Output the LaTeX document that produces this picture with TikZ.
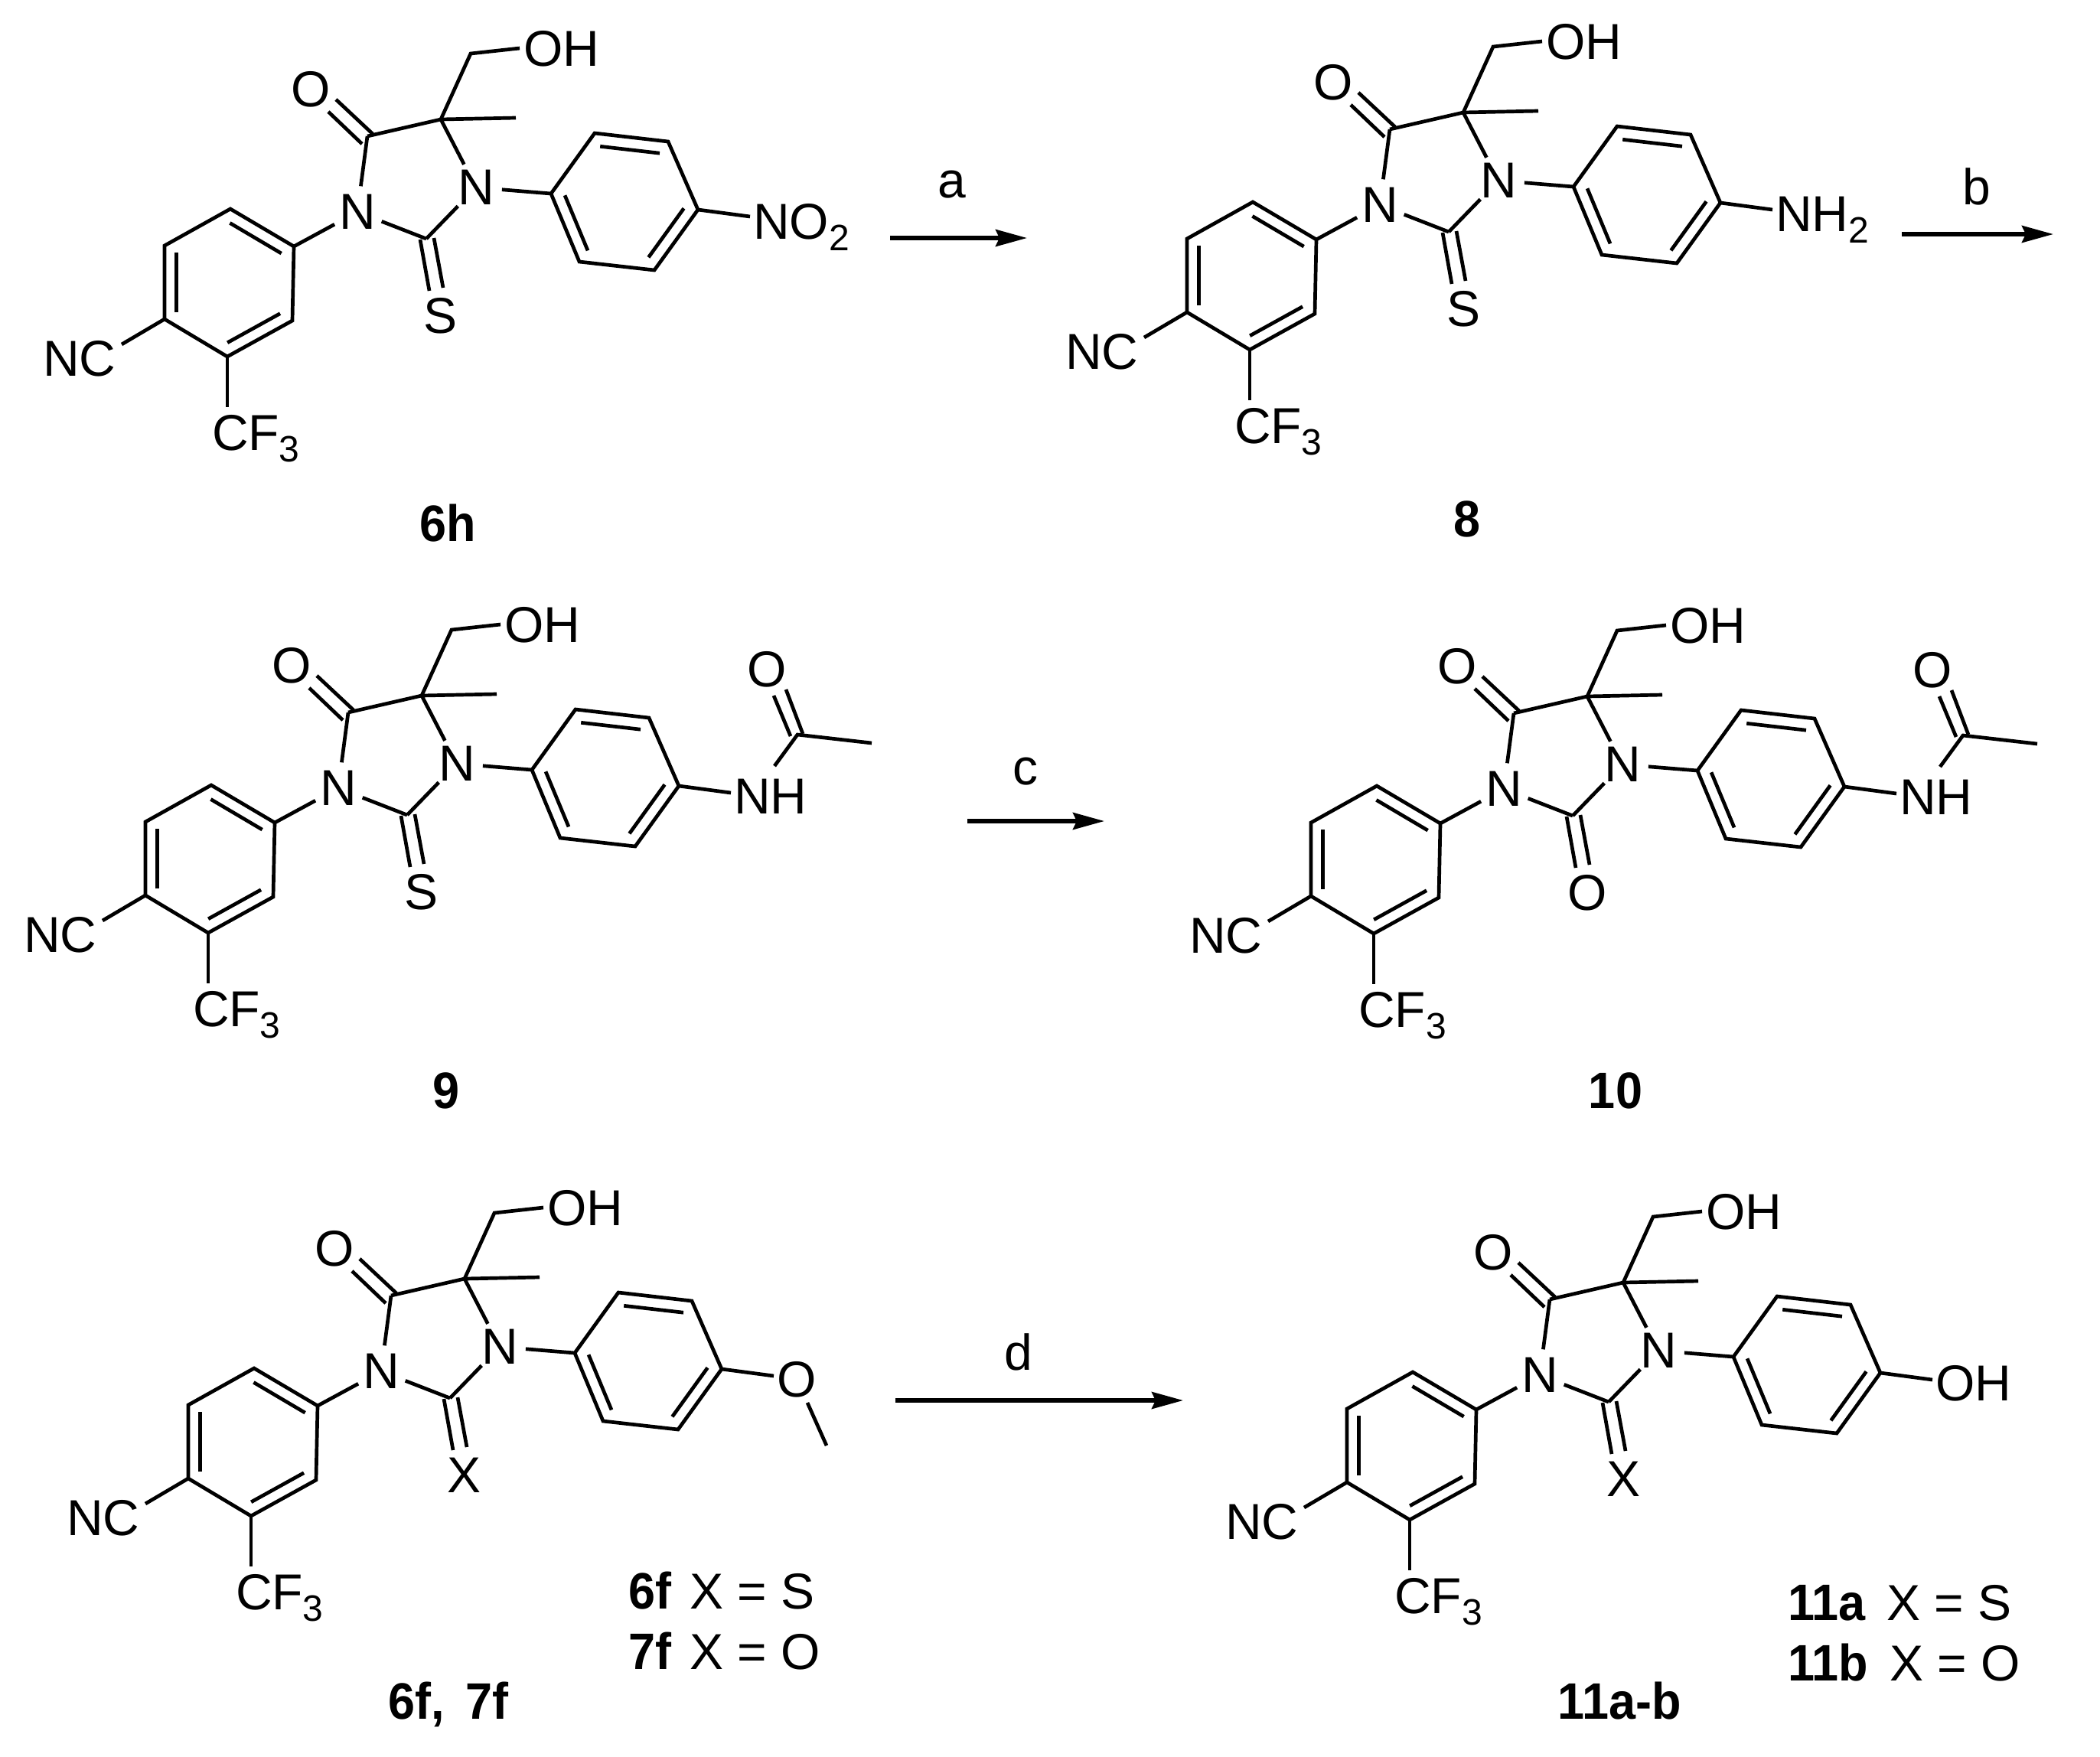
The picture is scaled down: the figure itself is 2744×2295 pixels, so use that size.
\documentclass[tikz,border=0pt]{standalone}
\usepackage{graphicx}
\usepackage{fontspec}
\setmainfont{Liberation Sans}
\usetikzlibrary{arrows.meta,calc}
\newcommand{\atomfont}{\fontsize{66}{66}\selectfont}
\newcommand{\labfont}{\fontsize{67}{67}\selectfont\bfseries}
\newcommand{\cmp}[1]{\scalebox{.94}[1]{\labfont #1}}
\newcommand{\subs}[1]{\raisebox{-15pt}{\fontsize{48}{48}\selectfont #1}}
\tikzset{
  bond/.style={line width=4.7pt,line cap=butt,line join=miter},
  atomlabel/.style={inner sep=0pt,outer sep=0pt,font=\atomfont},
  ringatom/.style={atomlabel,circle,minimum size=68pt},
  txtwest/.style={atomlabel,anchor=base west},
  txtcenter/.style={atomlabel,anchor=base},
  cmpd/.style={inner sep=0pt,anchor=base},
  rxn/.style={line width=5.4pt,-{Stealth[length=41pt,width=22pt,inset=5pt]}},
}
% #1 prefix, #2 dx, #3 dy, #4 exocyclic atom at C2, #5 para substituent drawing
\newcommand{\molcore}[5]{%
\begin{scope}[shift={(#2,#3)}]
  \coordinate (#1C5) at (576,156);
  \coordinate (#1C4) at (480,178);
  \coordinate (#1C2) at (557,312);
  \coordinate (#1CH) at (615,70);
  \coordinate (#1Me) at (674,154);
  \coordinate (#1OHe) at (679,63);
  \coordinate (#1A1) at (301,273);
  \coordinate (#1A2) at (384,322);
  \coordinate (#1A3) at (382,419);
  \coordinate (#1A4) at (297,466);
  \coordinate (#1A5) at (215,417);
  \coordinate (#1A6) at (215,321);
  \coordinate (#1Ac) at (298,370);
  \coordinate (#1B1) at (720,253);
  \coordinate (#1B2) at (777,174);
  \coordinate (#1B3) at (873,185);
  \coordinate (#1B4) at (912,274);
  \coordinate (#1B5) at (855,353);
  \coordinate (#1B6) at (757,342);
  \coordinate (#1Bc) at (815,265);
  \coordinate (#1NCe) at (159,450);
  \coordinate (#1CFe) at (297,532);
  \coordinate (#1Re) at (980,283);
  \node[ringatom] (#1N1) at (467,277) {N};
  \node[ringatom] (#1N3) at (622,245) {N};
  \node[atomlabel,anchor=base] (#1O) at (406,139) {O};
  \node[atomlabel,anchor=base] (#1X) at (576,435) {#4};
  \node[txtwest] (#1OH) at (684,86) {OH};
  \node[txtwest] (#1NC) at (56,491) {NC};
  \node[txtwest] (#1CF) at (277,588) {CF\subs{3}};
  \draw[bond] (#1A1)--(#1A2)--(#1A3)--(#1A4)--(#1A5)--(#1A6)--cycle;
  \draw[bond] (#1B1)--(#1B2)--(#1B3)--(#1B4)--(#1B5)--(#1B6)--cycle;
  \draw[bond] ($(#1A1)!.19!(#1Ac)$)--($(#1A2)!.19!(#1Ac)$);
  \draw[bond] ($(#1A3)!.19!(#1Ac)$)--($(#1A4)!.19!(#1Ac)$);
  \draw[bond] ($(#1A5)!.19!(#1Ac)$)--($(#1A6)!.19!(#1Ac)$);
  \draw[bond] ($(#1B2)!.19!(#1Bc)$)--($(#1B3)!.19!(#1Bc)$);
  \draw[bond] ($(#1B1)!.19!(#1Bc)$)--($(#1B6)!.19!(#1Bc)$);
  \draw[bond] ($(#1B4)!.19!(#1Bc)$)--($(#1B5)!.19!(#1Bc)$);
  \draw[bond] (#1C4)--(#1C5);
  \draw[bond] (#1C4)--(#1N1);
  \draw[bond] (#1C5)--(#1N3);
  \draw[bond] (#1N1)--(#1C2);
  \draw[bond] (#1C2)--(#1N3);
  \draw[bond] (#1N1)--(#1A2);
  \draw[bond] (#1N3)--(#1B1);
  \draw[bond] (#1C5)--(#1Me);
  \draw[bond] (#1C5)--(#1CH)--(#1OHe);
  \draw[bond] (#1A5)--(#1NCe);
  \draw[bond] (#1A4)--(#1CFe);
  \draw[bond] (#1B4)--(#1Re);
  \coordinate (#1da) at (439,130); \coordinate (#1db) at (487,175);
  \coordinate (#1dc) at (429,146); \coordinate (#1dd) at (473,188);
  \draw[bond] (#1da)--(#1db);
  \draw[bond] (#1dc)--(#1dd);
  \coordinate (#1sa) at (549,313); \coordinate (#1sb) at (561,380);
  \coordinate (#1sc) at (567,311); \coordinate (#1sd) at (579,376);
  \draw[bond] (#1sa)--(#1sb);
  \draw[bond] (#1sc)--(#1sd);
  #5
\end{scope}}
% acetamide fragment on the para position
\newcommand{\acetamide}[1]{%
  \node[txtwest] (#1NH) at (984,310) {NH};
  \node[atomlabel,anchor=base] (#1Oa) at (1027,144) {O};
  \coordinate (#1Ca) at (1067,207);
  \coordinate (#1Mea) at (1164,218);
  \coordinate (#1NHe) at (1037,248);
  \draw[bond] (#1NHe)--(#1Ca)--(#1Mea);
  \coordinate (#1ea) at (1052,148); \coordinate (#1eb) at (1074,206);
  \coordinate (#1ec) at (1036,156); \coordinate (#1ed) at (1058,209);
  \draw[bond] (#1ea)--(#1eb);
  \draw[bond] (#1ec)--(#1ed);
}
\begin{document}
\begin{tikzpicture}[x=1pt,y=-1pt]
\useasboundingbox (0,0) rectangle (2744,2295);

% 6h
\molcore{p}{0}{0}{S}{\node[txtwest] (pR) at (984,312) {NO\subs{2}};}
\node[cmpd] (l6h) at (585,707) {\cmp{6h}};
% 8
\molcore{q}{1336}{-9}{S}{\node[txtwest] (qR) at (984,311) {NH\subs{2}};}
\node[cmpd] (l8) at (1917,701) {\cmp{8}};
% 9
\molcore{r}{-25}{753}{S}{\acetamide{r}}
\node[cmpd] (l9) at (583,1448) {\cmp{9}};
% 10
\molcore{s}{1498}{754}{O}{\acetamide{s}}
\node[cmpd] (l10) at (2111,1448) {\cmp{10}};
% 6f, 7f
\molcore{t}{31}{1515}{X}{%
  \node[txtwest] (tOm) at (984,310) {O};
  \coordinate (tOa) at (1024,318);
  \coordinate (tOb) at (1049,374);
  \draw[bond] (tOa)--(tOb);}
\node[cmpd] (l6f) at (586,2246) {\cmp{6f,\hspace{30pt}7f}};
\node[atomlabel,anchor=base west] (k6f) at (821,2102) {\cmp{6f}\hspace{24pt}X = S};
\node[atomlabel,anchor=base west] (k7f) at (821,2181) {\cmp{7f}\hspace{24pt}X = O};
% 11
\molcore{u}{1545}{1520}{X}{\node[txtwest] (uR) at (984,310) {OH};}
\node[cmpd] (l11) at (2116,2246) {\cmp{11a-b}};
\node[atomlabel,anchor=base west] (k11a) at (2336,2117) {\cmp{11a}\hspace{28pt}X = S};
\node[atomlabel,anchor=base west] (k11b) at (2336,2196) {\cmp{11b}\hspace{28pt}X = O};

% reactions
\coordinate (a1) at (1163,311); \coordinate (a2) at (1342,311);
\draw[rxn] (a1)--(a2);
\node[txtcenter] (la) at (1244,258) {a};
\coordinate (b1) at (2485,306); \coordinate (b2) at (2683,306);
\draw[rxn] (b1)--(b2);
\node[txtcenter] (lb) at (2583,267) {b};
\coordinate (c1) at (1264,1073); \coordinate (c2) at (1443,1073);
\draw[rxn] (c1)--(c2);
\node[txtcenter] (lc) at (1340,1025) {c};
\coordinate (d1) at (1170,1830); \coordinate (d2) at (1546,1830);
\draw[rxn] (d1)--(d2);
\node[txtcenter] (ld) at (1331,1790) {d};
\end{tikzpicture}
\end{document}
